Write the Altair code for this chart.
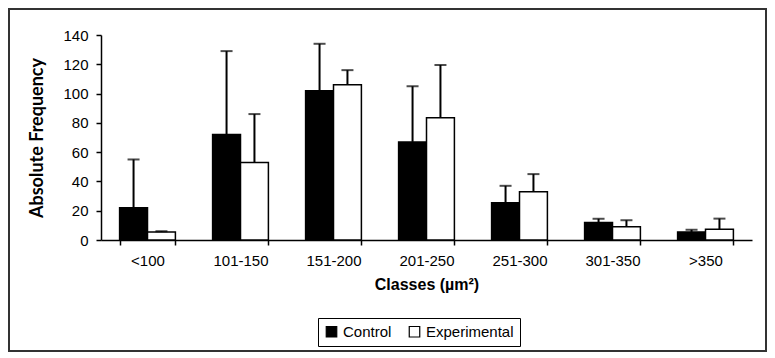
import altair as alt
import pandas as pd

classes = ["<100", "101-150", "151-200", "201-250", "251-300", "301-350", ">350"]
control = [22, 72, 102, 67, 25.5, 12, 5.5]
control_err = [33, 57, 32, 38, 11.5, 2.5, 1.5]
experimental = [5.5, 53, 106, 83.5, 33, 9, 7.3]
experimental_err = [0.5, 33, 10, 36, 12, 4.5, 7.3]
series = ["Control", "Experimental"]

rows = []
for i, c in enumerate(classes):
    rows.append({"cls": c, "grp": series[0], "val": control[i], "up": control[i] + control_err[i]})
    rows.append({"cls": c, "grp": series[1], "val": experimental[i], "up": experimental[i] + experimental_err[i]})
df = pd.DataFrame(rows)

W, H = 651, 205

x = alt.X("cls:N", sort=classes,
          scale=alt.Scale(paddingInner=0.4, paddingOuter=0.2),
          axis=alt.Axis(title="Classes (µm²)", labelAngle=0, tickBand="extent",
                        tickSize=5, tickWidth=1.5, tickColor="black",
                        domainColor="black", domainWidth=1.5,
                        labelFont="Liberation Sans", labelFontSize=15, labelColor="black",
                        labelPadding=8, labelOverlap=False,
                        titleFont="Liberation Sans", titleFontSize=16, titleFontWeight="bold",
                        titleColor="black", titlePadding=8))
xo = alt.XOffset("grp:N", sort=series, scale=alt.Scale(paddingInner=0, paddingOuter=0))

yscale = alt.Scale(domain=[0, 140], nice=False, zero=True)
yaxis = alt.Axis(title="Absolute Frequency", values=[0, 20, 40, 60, 80, 100, 120, 140],
                 grid=False, tickSize=5, tickWidth=1.5, tickColor="black",
                 domainColor="black", domainWidth=1.5, labelOverlap=False,
                 labelFont="Liberation Sans", labelFontSize=15, labelColor="black",
                 labelPadding=8,
                 titleFont="Lato", titleFontSize=18, titleFontWeight="bold",
                 titleColor="black", titlePadding=16)

base = alt.Chart(df)

bars = base.mark_bar(stroke="black", strokeWidth=1.5).encode(
    x=x, xOffset=xo,
    y=alt.Y("val:Q", scale=yscale, axis=yaxis),
    fill=alt.Fill("grp:N", sort=series,
                  scale=alt.Scale(domain=series, range=["black", "white"]),
                  legend=alt.Legend(title=None, orient="none", legendX=217, legendY=283,
                                    direction="horizontal", symbolType="square",
                                    symbolSize=110, symbolStrokeColor="black",
                                    symbolStrokeWidth=1.2,
                                    labelFont="Liberation Sans", labelFontSize=15,
                                    labelColor="black", columnPadding=14,
                                    strokeColor="black", padding=6)),
)

rules = base.mark_rule(color="black", strokeWidth=2).encode(
    x=x, xOffset=xo,
    y=alt.Y("val:Q", scale=yscale, axis=yaxis), y2="up:Q")

caps = base.mark_tick(color="black", thickness=2, size=12).encode(
    x=x, xOffset=xo, y=alt.Y("up:Q", scale=yscale, axis=yaxis))

border = alt.Chart(pd.DataFrame({"a": [0]})).mark_rect(
    fill=None, stroke="#333", strokeWidth=2).encode(
    x=alt.value(-92), x2=alt.value(665), y=alt.value(-26), y2=alt.value(316))

chart = alt.layer(bars, rules, caps, border).properties(
    width=W, height=H,
    autosize=alt.AutoSizeParams(type="none"),
    padding={"left": 93, "top": 27, "right": 15, "bottom": 112},
).configure_view(stroke=None).configure_axis(labelFlush=False)

chart.save("out.html", embed_options={"renderer": "svg", "actions": False})
